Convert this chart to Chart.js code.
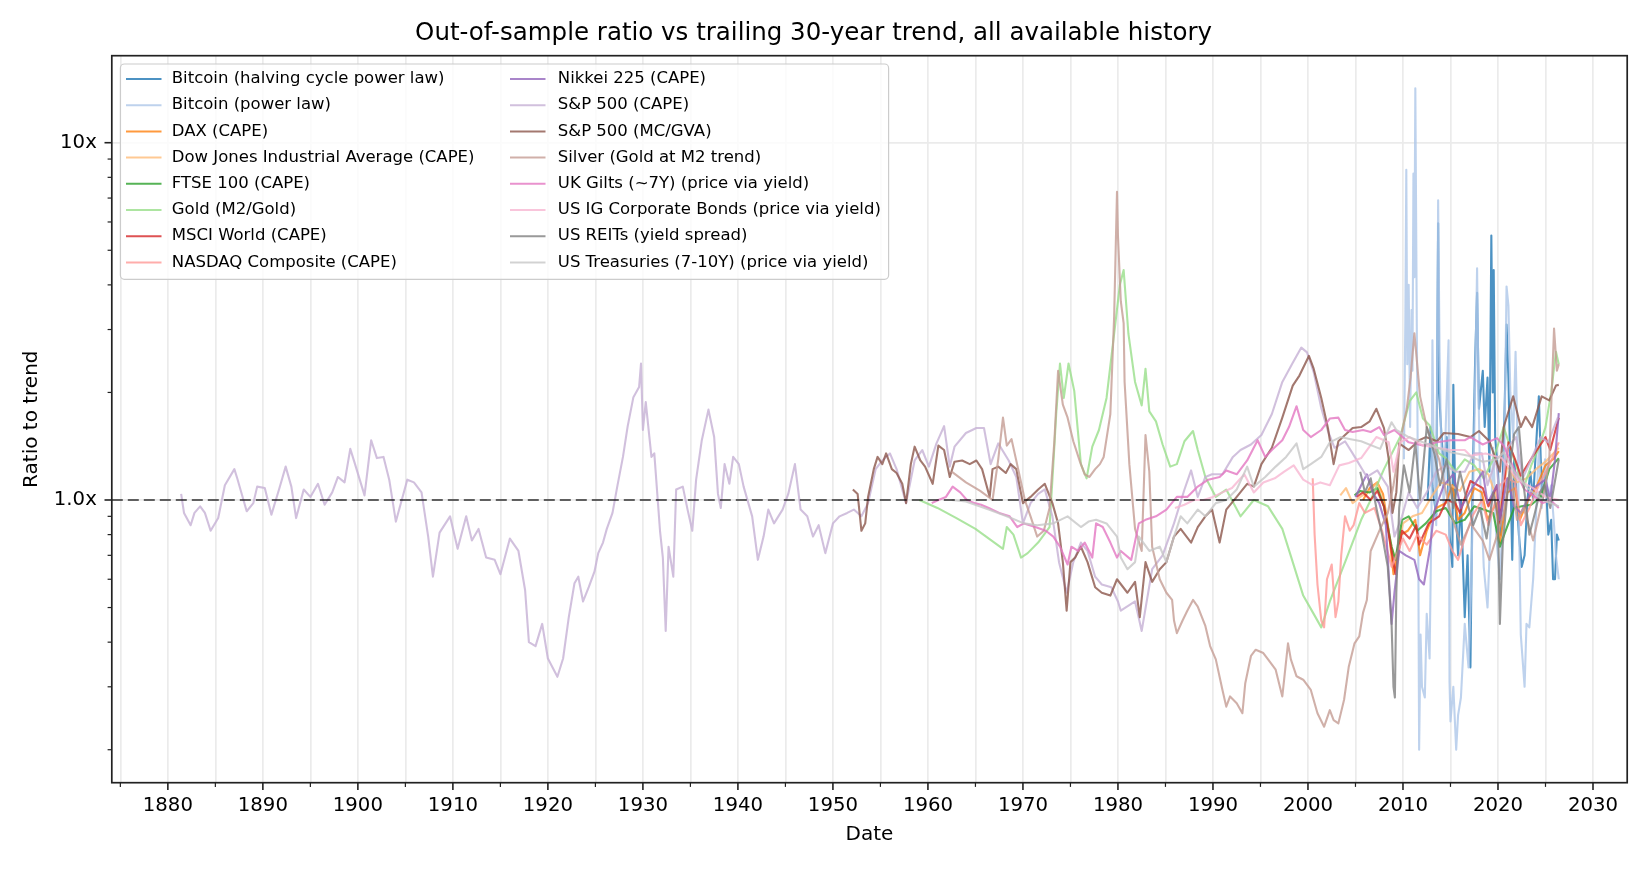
<!DOCTYPE html>
<html>
<head>
<meta charset="utf-8">
<script src="https://cdn.jsdelivr.net/npm/chart.js@4.4.1/dist/chart.umd.min.js"></script>
<style>
  html, body { margin: 0; padding: 0; background: #fff; }
  #wrap { width: 1650px; height: 870px; }
</style>
</head>
<body>
<div id="wrap"><canvas id="chart" width="1650" height="870"></canvas></div>
<script>
// Series: [year, ratio to trailing trend]
const btcHalving = [[2012.6,1.0],[2012.9,1.6],[2013.1,1.1],[2013.5,0.9],[2013.7,5.95],[2013.8,2.0],[2014.0,1.6],[2014.3,1.2],[2014.6,1.5],[2014.9,0.8],[2015.2,0.65],[2015.3,2.1],[2015.5,1.0],[2015.8,0.7],[2016.1,1.0],[2016.5,0.47],[2016.8,0.7],[2017.1,0.34],[2017.3,1.0],[2017.6,2.5],[2017.8,3.8],[2018.0,1.8],[2018.4,2.3],[2018.6,1.6],[2018.9,2.2],[2019.1,1.2],[2019.3,5.5],[2019.45,2.0],[2019.55,4.4],[2019.7,1.5],[2020.0,1.2],[2020.3,0.8],[2020.6,1.4],[2020.9,3.1],[2021.1,2.2],[2021.5,0.68],[2021.7,1.3],[2021.9,1.1],[2022.2,0.8],[2022.5,0.65],[2022.8,0.7],[2023.1,1.0],[2023.4,1.2],[2023.7,1.0],[2024.0,1.4],[2024.3,1.95],[2024.5,1.3],[2024.7,1.0],[2025.0,1.2],[2025.3,0.8],[2025.6,0.88],[2025.8,0.6],[2026.0,0.6],[2026.2,0.8],[2026.4,0.77]];
const btcPowerLaw = [[2010.1,1.3],[2010.25,3.2],[2010.35,8.4],[2010.45,2.4],[2010.6,4.0],[2010.75,1.6],[2010.9,3.4],[2011.0,2.3],[2011.1,8.2],[2011.2,4.2],[2011.3,14.2],[2011.45,3.2],[2011.6,0.9],[2011.7,0.2],[2011.85,0.42],[2012.0,0.3],[2012.3,0.28],[2012.5,0.48],[2012.8,0.36],[2013.0,0.9],[2013.1,2.8],[2013.25,1.2],[2013.5,0.85],[2013.7,6.9],[2013.85,2.6],[2014.0,1.5],[2014.3,0.95],[2014.5,1.6],[2014.8,2.8],[2014.9,0.31],[2015.0,0.24],[2015.3,0.3],[2015.6,0.2],[2015.8,0.25],[2016.1,0.28],[2016.5,0.45],[2016.9,0.34],[2017.2,0.6],[2017.5,1.5],[2017.8,4.45],[2017.95,2.0],[2018.1,1.2],[2018.5,0.65],[2018.9,0.5],[2019.3,0.95],[2019.5,1.4],[2019.8,0.8],[2020.2,0.6],[2020.6,1.0],[2020.9,3.96],[2021.1,3.5],[2021.3,2.0],[2021.6,1.5],[2021.85,2.6],[2022.1,1.3],[2022.4,0.42],[2022.8,0.3],[2023.0,0.45],[2023.3,0.44],[2023.7,0.6],[2024.0,0.9],[2024.3,1.4],[2024.6,0.95],[2024.95,1.3],[2025.3,1.0],[2025.6,1.1],[2025.9,0.85],[2026.1,0.7],[2026.4,0.6]];
const dax = [[2005.8,1.0],[2006.5,1.08],[2007.3,1.12],[2007.9,1.04],[2008.5,0.82],[2009.0,0.62],[2009.8,0.8],[2010.5,0.82],[2011.3,0.88],[2011.8,0.7],[2012.5,0.82],[2013.5,0.95],[2014.5,0.98],[2015.2,1.1],[2015.8,0.88],[2016.5,0.92],[2017.5,1.08],[2018.3,1.05],[2018.9,0.88],[2019.8,0.98],[2020.2,0.76],[2021.0,1.05],[2021.8,1.08],[2022.3,0.88],[2023.3,1.02],[2024.0,1.08],[2025.0,1.25],[2025.8,1.3],[2026.4,1.37]];
const dow = [[2003.4,1.03],[2004.0,1.08],[2004.7,0.98],[2005.5,1.02],[2006.5,1.06],[2007.3,1.12],[2008.0,0.96],[2008.8,0.74],[2009.2,0.68],[2010.0,0.86],[2011.0,0.9],[2012.0,0.92],[2013.0,1.02],[2014.0,1.12],[2015.0,1.1],[2016.0,1.06],[2017.0,1.2],[2018.0,1.22],[2019.0,1.18],[2020.2,0.95],[2021.0,1.25],[2022.0,1.12],[2023.0,1.15],[2024.0,1.22],[2025.0,1.28],[2026.4,1.4]];
const ftse = [[2004.9,1.03],[2005.5,1.06],[2006.5,1.05],[2007.3,1.08],[2008.0,0.96],[2008.8,0.74],[2009.2,0.68],[2009.9,0.88],[2010.6,0.9],[2011.5,0.82],[2012.4,0.86],[2013.5,0.93],[2014.5,0.95],[2015.5,0.86],[2016.5,0.88],[2017.5,0.96],[2018.5,0.94],[2019.5,0.92],[2020.2,0.74],[2020.8,0.82],[2021.7,0.95],[2022.5,0.96],[2023.5,0.97],[2024.5,1.02],[2025.4,1.22],[2026.4,1.31]];
const gold = [[1959.1,1.0],[1961.0,0.95],[1963.0,0.89],[1965.0,0.83],[1967.9,0.73],[1968.3,0.84],[1969.0,0.8],[1969.8,0.69],[1970.5,0.71],[1971.6,0.76],[1972.8,0.84],[1973.2,1.26],[1973.5,1.74],[1973.9,2.41],[1974.3,1.93],[1974.8,2.41],[1975.4,2.02],[1976.1,1.26],[1976.7,1.15],[1977.3,1.41],[1978.0,1.57],[1978.8,1.93],[1979.6,2.92],[1980.2,4.0],[1980.6,4.4],[1981.1,2.92],[1981.8,2.14],[1982.5,1.84],[1982.9,2.33],[1983.3,1.77],[1984.0,1.66],[1984.7,1.43],[1985.5,1.24],[1986.2,1.26],[1987.0,1.46],[1987.9,1.56],[1988.4,1.38],[1989.2,1.16],[1990.3,1.02],[1991.4,1.07],[1992.9,0.9],[1994.3,1.0],[1995.8,0.96],[1997.3,0.83],[1998.4,0.67],[1999.5,0.54],[2000.6,0.48],[2001.4,0.44],[2002.3,0.52],[2004.0,0.68],[2005.6,0.88],[2006.6,1.0],[2008.0,1.22],[2009.7,1.5],[2010.7,1.89],[2011.4,2.0],[2012.1,1.69],[2012.8,1.62],[2013.8,1.35],[2014.5,1.31],[2015.5,1.2],[2016.5,1.3],[2017.5,1.25],[2018.5,1.15],[2019.5,1.3],[2020.6,1.6],[2021.5,1.35],[2022.7,1.08],[2023.5,1.25],[2024.3,1.4],[2025.0,1.6],[2025.6,2.0],[2026.1,2.6],[2026.4,2.4]];
const msci = [[2005.1,1.02],[2005.8,1.05],[2006.6,1.0],[2007.3,1.06],[2008.0,0.96],[2008.8,0.72],[2009.2,0.62],[2009.9,0.82],[2010.7,0.78],[2011.4,0.85],[2011.7,0.75],[2012.7,0.86],[2013.8,0.9],[2014.6,1.0],[2015.5,0.98],[2016.0,0.92],[2017.1,1.13],[2018.4,1.08],[2019.0,0.96],[2019.9,1.1],[2020.2,0.86],[2021.1,1.45],[2021.8,1.3],[2022.4,1.17],[2023.7,1.33],[2025.0,1.5],[2025.5,1.38],[2026.4,1.7]];
const nasdaq = [[2000.5,1.15],[2000.7,0.8],[2001.0,0.58],[2001.4,0.46],[2001.7,0.44],[2002.0,0.6],[2002.5,0.66],[2002.9,0.47],[2003.2,0.52],[2003.5,0.7],[2003.9,0.9],[2004.4,0.82],[2004.8,0.85],[2005.4,0.98],[2006.0,0.92],[2007.0,0.95],[2007.8,0.82],[2008.8,0.65],[2009.3,0.7],[2010.0,0.78],[2010.7,0.72],[2011.5,0.8],[2012.5,0.75],[2013.5,0.82],[2014.5,0.8],[2015.2,0.72],[2015.8,0.68],[2016.5,0.78],[2017.3,0.9],[2018.3,1.0],[2019.0,0.85],[2020.2,1.1],[2021.0,1.15],[2021.8,1.12],[2022.4,0.85],[2023.3,0.95],[2024.3,1.1],[2025.4,1.25],[2026.4,1.45]];
const nikkei = [[2005.0,1.02],[2005.6,1.1],[2006.2,1.18],[2006.8,1.05],[2007.5,0.98],[2008.2,0.85],[2008.8,0.45],[2009.1,0.55],[2009.6,0.72],[2010.3,0.7],[2011.2,0.68],[2011.7,0.6],[2012.2,0.58],[2012.8,0.72],[2013.3,0.93],[2014.3,1.1],[2015.3,1.18],[2016.1,0.95],[2017.0,1.05],[2018.4,1.2],[2018.9,0.98],[2019.9,1.1],[2020.2,0.88],[2021.0,1.15],[2021.7,0.96],[2022.4,0.92],[2023.7,1.08],[2025.0,1.14],[2025.5,1.0],[2026.0,1.3],[2026.4,1.75]];
const spCape = [[1881.4,1.04],[1881.7,0.92],[1882.4,0.85],[1882.8,0.92],[1883.4,0.96],[1883.9,0.92],[1884.5,0.82],[1885.3,0.89],[1886.0,1.1],[1887.0,1.22],[1887.3,1.15],[1888.3,0.93],[1889.0,0.98],[1889.4,1.09],[1890.2,1.08],[1890.9,0.91],[1891.7,1.07],[1892.4,1.24],[1893.0,1.09],[1893.5,0.89],[1894.3,1.07],[1895.0,1.02],[1895.8,1.11],[1896.5,0.97],[1897.3,1.05],[1897.9,1.16],[1898.6,1.12],[1899.2,1.39],[1899.7,1.26],[1900.7,1.03],[1901.4,1.47],[1902.0,1.31],[1902.7,1.32],[1903.3,1.14],[1904.0,0.87],[1905.2,1.14],[1905.9,1.12],[1906.7,1.05],[1907.4,0.79],[1907.9,0.61],[1908.6,0.81],[1909.7,0.9],[1910.5,0.73],[1911.4,0.9],[1912.0,0.77],[1912.7,0.83],[1913.5,0.69],[1914.4,0.68],[1915.0,0.62],[1916.0,0.78],[1916.9,0.72],[1917.6,0.56],[1918.0,0.4],[1918.7,0.39],[1919.4,0.45],[1920.0,0.36],[1921.0,0.32],[1921.6,0.36],[1922.2,0.47],[1922.8,0.585],[1923.2,0.61],[1923.7,0.52],[1924.3,0.57],[1924.9,0.63],[1925.3,0.71],[1925.8,0.76],[1926.2,0.83],[1926.8,0.92],[1927.3,1.09],[1927.9,1.32],[1928.4,1.61],[1929.0,1.94],[1929.6,2.07],[1929.8,2.41],[1930.0,1.57],[1930.3,1.88],[1930.9,1.32],[1931.2,1.35],[1931.8,0.82],[1932.1,0.69],[1932.4,0.43],[1932.7,0.74],[1933.2,0.61],[1933.5,1.07],[1934.2,1.09],[1934.7,0.94],[1935.2,0.82],[1935.6,1.14],[1936.2,1.47],[1936.9,1.79],[1937.5,1.5],[1937.9,1.04],[1938.2,0.95],[1938.6,1.26],[1939.1,1.11],[1939.5,1.32],[1940.1,1.26],[1940.6,1.09],[1941.5,0.9],[1942.1,0.68],[1942.7,0.79],[1943.2,0.94],[1943.8,0.86],[1944.7,0.94],[1945.3,1.04],[1946.0,1.26],[1946.6,0.94],[1947.3,0.9],[1947.9,0.79],[1948.5,0.85],[1949.2,0.71],[1950.0,0.86],[1950.7,0.9],[1951.5,0.92],[1952.2,0.94],[1953.0,0.9],[1953.7,0.98],[1954.5,1.22],[1955.2,1.29],[1956.0,1.35],[1956.7,1.22],[1957.7,0.98],[1958.2,1.14],[1958.6,1.29],[1959.4,1.38],[1960.1,1.24],[1960.9,1.44],[1961.7,1.61],[1962.3,1.24],[1962.8,1.41],[1964.0,1.54],[1965.1,1.59],[1965.9,1.59],[1966.6,1.26],[1967.4,1.44],[1968.5,1.29],[1969.3,1.16],[1970.0,0.86],[1970.8,0.98],[1971.6,1.04],[1972.3,1.07],[1973.1,0.9],[1973.8,0.67],[1974.6,0.55],[1975.3,0.67],[1976.1,0.76],[1976.8,0.72],[1977.6,0.61],[1978.3,0.58],[1979.3,0.57],[1980.0,0.52],[1980.3,0.49],[1981.8,0.52],[1982.5,0.43],[1983.6,0.64],[1984.7,0.7],[1985.9,0.86],[1987.0,1.07],[1987.7,1.21],[1988.4,1.02],[1989.2,1.16],[1989.9,1.18],[1991.0,1.18],[1992.1,1.32],[1992.9,1.38],[1994.0,1.43],[1995.1,1.52],[1996.2,1.74],[1997.3,2.14],[1998.4,2.42],[1999.3,2.67],[1999.9,2.59],[2000.6,2.28],[2001.4,1.81],[2002.1,1.56],[2002.8,1.4],[2003.9,1.46],[2004.7,1.35],[2006.2,1.16],[2007.3,1.21],[2008.4,1.09],[2009.1,0.79],[2009.9,0.9],[2010.6,1.05],[2011.5,0.95],[2012.5,1.05],[2013.5,1.2],[2014.5,1.25],[2015.5,1.2],[2016.5,1.2],[2017.5,1.35],[2018.3,1.35],[2018.9,1.1],[2019.8,1.3],[2020.2,1.0],[2021.0,1.4],[2021.9,1.5],[2022.6,1.15],[2023.5,1.3],[2024.5,1.5],[2025.3,1.45],[2025.9,1.6],[2026.3,1.7]];
const spGva = [[1952.1,1.07],[1952.6,1.04],[1953.0,0.82],[1953.4,0.86],[1953.7,1.02],[1954.3,1.22],[1954.7,1.32],[1955.2,1.26],[1955.6,1.35],[1956.2,1.22],[1956.7,1.19],[1957.3,1.11],[1957.7,0.98],[1958.2,1.26],[1958.6,1.41],[1959.2,1.29],[1959.7,1.24],[1960.5,1.11],[1961.1,1.42],[1961.7,1.38],[1962.3,1.16],[1962.8,1.28],[1963.6,1.29],[1964.4,1.26],[1965.1,1.29],[1965.7,1.22],[1966.5,1.02],[1966.8,1.22],[1967.4,1.24],[1968.2,1.19],[1968.7,1.26],[1969.3,1.22],[1970.0,0.98],[1970.8,1.02],[1971.6,1.07],[1972.3,1.11],[1973.1,0.98],[1973.7,0.86],[1974.2,0.67],[1974.6,0.49],[1975.0,0.67],[1975.5,0.69],[1976.1,0.74],[1976.8,0.67],[1977.6,0.57],[1978.3,0.55],[1979.2,0.54],[1979.9,0.6],[1981.0,0.55],[1981.8,0.59],[1982.3,0.47],[1982.9,0.67],[1983.6,0.59],[1984.4,0.64],[1985.1,0.67],[1985.9,0.79],[1986.6,0.83],[1987.7,0.76],[1988.4,0.84],[1989.2,0.9],[1989.9,0.94],[1990.7,0.76],[1991.4,0.94],[1992.5,1.02],[1993.6,1.11],[1994.3,1.09],[1995.1,1.26],[1996.2,1.4],[1997.3,1.7],[1998.4,2.09],[1999.1,2.23],[2000.1,2.53],[2000.6,2.33],[2001.4,1.93],[2002.1,1.59],[2002.7,1.26],[2003.2,1.46],[2003.9,1.52],[2004.7,1.59],[2005.6,1.6],[2006.5,1.66],[2007.2,1.8],[2008.0,1.59],[2008.5,1.3],[2008.9,0.92],[2009.3,1.05],[2009.6,1.44],[2010.6,1.38],[2011.7,1.47],[2012.4,1.5],[2013.6,1.46],[2014.3,1.54],[2015.8,1.53],[2017.1,1.5],[2018.0,1.56],[2019.1,1.46],[2020.2,1.2],[2020.6,1.6],[2021.6,1.95],[2022.4,1.6],[2022.9,1.71],[2023.6,1.6],[2024.6,1.95],[2025.4,1.9],[2026.1,2.09],[2026.4,2.1]];
const silver = [[1962.5,1.2],[1964.0,1.12],[1965.5,1.06],[1966.8,1.0],[1967.4,1.3],[1967.9,1.7],[1968.3,1.42],[1968.8,1.48],[1969.5,1.22],[1970.2,1.0],[1970.8,0.9],[1971.5,0.79],[1972.2,0.82],[1972.8,0.95],[1973.3,1.45],[1973.7,2.3],[1974.2,1.85],[1974.7,1.7],[1975.3,1.46],[1976.0,1.28],[1976.5,1.18],[1977.0,1.16],[1977.6,1.22],[1978.1,1.26],[1978.5,1.32],[1979.2,1.74],[1979.6,3.26],[1979.9,7.29],[1980.0,5.5],[1980.3,3.6],[1980.6,3.12],[1980.7,2.14],[1981.2,1.26],[1981.8,0.83],[1982.5,0.72],[1982.9,1.52],[1983.3,1.2],[1983.6,0.74],[1984.4,0.6],[1985.1,0.55],[1985.7,0.525],[1985.9,0.46],[1986.2,0.424],[1986.8,0.46],[1987.3,0.49],[1987.9,0.525],[1988.4,0.503],[1989.2,0.444],[1989.7,0.39],[1990.3,0.358],[1991.0,0.294],[1991.4,0.264],[1991.8,0.282],[1992.5,0.27],[1993.1,0.253],[1993.4,0.307],[1994.0,0.366],[1994.5,0.381],[1995.3,0.373],[1995.8,0.358],[1996.6,0.335],[1997.3,0.282],[1997.9,0.397],[1998.2,0.358],[1998.8,0.321],[1999.5,0.314],[2000.3,0.294],[2001.0,0.253],[2001.7,0.232],[2002.3,0.258],[2002.7,0.242],[2003.2,0.237],[2003.8,0.276],[2004.3,0.342],[2004.9,0.397],[2005.4,0.415],[2005.8,0.484],[2006.2,0.525],[2006.6,0.72],[2007.6,0.83],[2008.4,0.92],[2009.0,1.1],[2009.9,1.55],[2010.4,1.8],[2010.8,2.2],[2011.2,2.93],[2011.8,1.95],[2012.5,1.6],[2013.8,1.3],[2015.0,0.92],[2016.1,0.75],[2017.1,0.86],[2018.4,0.77],[2019.1,0.68],[2019.8,0.78],[2020.6,0.92],[2021.3,1.2],[2022.0,0.88],[2022.7,0.95],[2023.7,0.77],[2024.5,0.95],[2025.0,1.1],[2025.4,1.31],[2025.9,3.02],[2026.2,2.3],[2026.4,2.4]];
const ukGilts = [[1960.4,0.98],[1961.1,1.0],[1961.9,1.02],[1962.6,1.09],[1963.4,1.05],[1964.1,1.0],[1964.9,0.98],[1965.6,0.97],[1966.4,0.95],[1967.5,0.92],[1968.6,0.9],[1969.4,0.84],[1970.1,0.86],[1971.3,0.84],[1972.4,0.82],[1973.2,0.79],[1973.9,0.74],[1974.7,0.66],[1975.1,0.74],[1975.8,0.72],[1976.5,0.76],[1977.3,0.69],[1977.7,0.86],[1978.4,0.84],[1979.2,0.76],[1979.9,0.69],[1980.3,0.72],[1981.4,0.68],[1982.2,0.86],[1982.9,0.88],[1984.0,0.9],[1985.1,0.94],[1986.2,1.02],[1987.3,1.02],[1988.4,1.09],[1989.5,1.14],[1990.7,1.16],[1991.4,1.21],[1992.5,1.18],[1993.6,1.29],[1994.7,1.47],[1995.5,1.32],[1996.2,1.38],[1997.3,1.47],[1998.0,1.6],[1998.8,1.83],[1999.5,1.57],[2000.3,1.5],[2001.4,1.57],[2002.3,1.69],[2003.2,1.7],[2003.9,1.57],[2004.7,1.55],[2005.8,1.57],[2006.6,1.55],[2007.5,1.6],[2008.0,1.52],[2009.1,1.57],[2010.6,1.45],[2012.1,1.42],[2013.6,1.45],[2015.0,1.47],[2016.5,1.47],[2017.1,1.5],[2018.4,1.43],[2019.9,1.49],[2020.6,1.42],[2021.7,1.22],[2022.8,1.07],[2023.9,1.02],[2024.7,0.98],[2025.5,1.0],[2026.4,0.95]];
const usIg = [[1986.0,0.95],[1987.0,0.97],[1988.0,1.0],[1989.0,1.0],[1990.0,1.02],[1991.0,1.05],[1992.0,1.08],[1993.3,1.18],[1994.3,1.05],[1995.3,1.12],[1996.5,1.15],[1997.5,1.2],[1998.5,1.25],[1999.5,1.14],[2000.5,1.1],[2001.3,1.12],[2002.3,1.1],[2003.3,1.25],[2004.3,1.27],[2005.6,1.31],[2007.2,1.5],[2008.5,1.45],[2009.0,1.2],[2009.7,1.45],[2010.7,1.5],[2012.1,1.42],[2013.6,1.4],[2015.0,1.38],[2016.5,1.38],[2017.1,1.33],[2018.7,1.35],[2020.4,1.31],[2022.1,1.14],[2023.7,1.08],[2025.0,1.02],[2026.4,1.0]];
const usReits = [[2005.5,1.2],[2006.0,1.05],[2006.6,1.15],[2007.2,0.95],[2007.8,0.8],[2008.4,0.65],[2008.8,0.45],[2009.0,0.3],[2009.15,0.28],[2009.3,0.55],[2009.6,0.95],[2010.1,1.25],[2010.7,1.05],[2011.3,1.45],[2011.8,1.0],[2012.5,1.6],[2013.3,1.35],[2013.9,1.1],[2014.6,1.3],[2015.3,0.95],[2016.0,1.2],[2016.7,1.0],[2017.4,0.85],[2018.1,0.95],[2018.8,0.78],[2019.5,1.05],[2020.0,0.9],[2020.2,0.45],[2020.5,0.75],[2021.2,1.2],[2021.7,1.53],[2022.2,1.6],[2022.7,1.1],[2023.3,0.8],[2023.8,0.9],[2024.4,1.05],[2024.9,1.1],[2025.5,0.95],[2026.4,1.3]];
const usTreasuries = [[1962.5,1.0],[1964.0,0.99],[1966.4,0.94],[1968.3,0.9],[1970.1,0.86],[1971.5,0.85],[1973.2,0.86],[1974.7,0.9],[1976.1,0.84],[1976.9,0.87],[1977.7,0.88],[1978.8,0.86],[1979.9,0.79],[1980.3,0.69],[1981.0,0.64],[1981.8,0.67],[1982.2,0.79],[1983.3,0.72],[1984.4,0.74],[1985.1,0.67],[1985.9,0.79],[1986.6,0.9],[1987.3,0.86],[1988.4,0.94],[1989.2,0.9],[1990.3,0.98],[1991.4,1.0],[1992.5,1.07],[1993.6,1.24],[1994.3,1.09],[1995.5,1.16],[1996.6,1.24],[1997.7,1.32],[1998.8,1.44],[1999.5,1.22],[2000.3,1.26],[2001.4,1.32],[2002.3,1.45],[2003.4,1.5],[2004.5,1.48],[2005.6,1.46],[2007.6,1.39],[2008.8,1.65],[2009.3,1.57],[2010.6,1.5],[2012.1,1.45],[2013.6,1.4],[2015.0,1.36],[2016.9,1.33],[2018.4,1.28],[2019.9,1.3],[2020.6,1.36],[2021.7,1.2],[2023.1,1.08],[2024.7,1.0],[2025.5,0.98],[2026.4,0.96]];

const seriesNames = [
  'Bitcoin (halving cycle power law)', 'Bitcoin (power law)', 'DAX (CAPE)',
  'Dow Jones Industrial Average (CAPE)', 'FTSE 100 (CAPE)', 'Gold (M2/Gold)',
  'MSCI World (CAPE)', 'NASDAQ Composite (CAPE)', 'Nikkei 225 (CAPE)',
  'S&P 500 (CAPE)', 'S&P 500 (MC/GVA)', 'Silver (Gold at M2 trend)',
  'UK Gilts (~7Y) (price via yield)', 'US IG Corporate Bonds (price via yield)',
  'US REITs (yield spread)', 'US Treasuries (7-10Y) (price via yield)'
];
const xTickYears = [1875,1880,1885,1890,1895,1900,1905,1910,1915,1920,1925,1930,1935,1940,1945,1950,1955,1960,1965,1970,1975,1980,1985,1990,1995,2000,2005,2010,2015,2020,2025,2030];
const yMajorTicks = [1, 10];
const yMajorLabels = ['1.0x', '10x'];
const yMinorTicks = [0.2,0.3,0.4,0.5,0.6,0.7,0.8,0.9,2,3,4,5,6,7,8,9];

const allSeries = [btcHalving, btcPowerLaw, dax, dow, ftse, gold, msci, nasdaq, nikkei, spCape, spGva, silver, ukGilts, usIg, usReits, usTreasuries];
const palette = ['#1f77b4','#aec7e8','#ff7f0e','#ffbb78','#2ca02c','#98df8a','#d62728','#ff9896','#9467bd','#c5b0d5','#8c564b','#c49c94','#e377c2','#f7b6d2','#7f7f7f','#c7c7c7'];
const FONT = "'DejaVu Sans', 'Liberation Sans', sans-serif";

function rgba(hex, a) {
  const n = parseInt(hex.slice(1), 16);
  return 'rgba(' + (n >> 16) + ',' + ((n >> 8) & 255) + ',' + (n & 255) + ',' + a + ')';
}

// matplotlib-ish extras: reference line, spines, tick marks, 2-column legend
const mplDecor = {
  id: 'mplDecor',
  afterDatasetsDraw(chart) {
    const ctx = chart.ctx, a = chart.chartArea;
    const y1 = chart.scales.y.getPixelForValue(1);
    ctx.save();
    ctx.strokeStyle = 'rgba(0,0,0,0.6)';
    ctx.lineWidth = 2.1;
    ctx.setLineDash([11, 5]);
    ctx.beginPath();
    ctx.moveTo(a.left, y1);
    ctx.lineTo(a.right, y1);
    ctx.stroke();
    ctx.restore();
  },
  afterDraw(chart) {
    const ctx = chart.ctx, a = chart.chartArea;
    const xs = chart.scales.x, ys = chart.scales.y;
    ctx.save();
    ctx.strokeStyle = '#222';
    // tick marks
    xTickYears.forEach(v => {
      const px = xs.getPixelForValue(v);
      const major = v % 10 === 0;
      ctx.lineWidth = major ? 1.6 : 1.2;
      ctx.beginPath();
      ctx.moveTo(px, a.bottom);
      ctx.lineTo(px, a.bottom + (major ? 7.3 : 4.2));
      ctx.stroke();
    });
    yMajorTicks.concat(yMinorTicks).forEach(v => {
      const py = ys.getPixelForValue(v);
      const major = yMajorTicks.includes(v);
      ctx.lineWidth = major ? 1.6 : 1.2;
      ctx.beginPath();
      ctx.moveTo(a.left, py);
      ctx.lineTo(a.left - (major ? 7.3 : 4.2), py);
      ctx.stroke();
    });
    // spines
    ctx.lineWidth = 1.7;
    ctx.strokeRect(a.left, a.top, a.right - a.left, a.bottom - a.top);

    // legend
    const bx = 120.4, by = 64, bw = 768.2, bh = 215.3;
    ctx.fillStyle = 'rgba(255,255,255,0.8)';
    ctx.strokeStyle = '#cccccc';
    ctx.lineWidth = 1.2;
    ctx.beginPath();
    ctx.roundRect(bx, by, bw, bh, 4);
    ctx.fill();
    ctx.stroke();
    ctx.font = '16.5px ' + FONT;
    ctx.textBaseline = 'middle';
    ctx.textAlign = 'left';
    seriesNames.forEach((name, i) => {
      const col = i < 8 ? 0 : 1;
      const row = i % 8;
      const y = 79 + row * 26.2;
      const hx = col ? 510 : 126;
      ctx.strokeStyle = rgba(palette[i], 0.8);
      ctx.lineWidth = 2;
      ctx.beginPath();
      ctx.moveTo(hx, y);
      ctx.lineTo(hx + 35.5, y);
      ctx.stroke();
      ctx.fillStyle = '#000';
      ctx.fillText(name, col ? 557.8 : 171.8, y);
    });
    ctx.restore();
  }
};

new Chart(document.getElementById('chart').getContext('2d'), {
  type: 'line',
  data: {
    datasets: allSeries.map((d, i) => ({
      label: seriesNames[i],
      data: d,
      borderColor: rgba(palette[i], 0.8),
      backgroundColor: rgba(palette[i], 0.8),
      borderWidth: 2.1,
      borderJoinStyle: 'round',
      pointRadius: 0,
      tension: 0,
      fill: false,
      order: allSeries.length - i
    }))
  },
  options: {
    responsive: false,
    animation: false,
    events: [],
    layout: { padding: { left: 0, right: 22.8, top: 0, bottom: 0 } },
    plugins: {
      legend: { display: false },
      tooltip: { enabled: false },
      title: {
        display: true,
        text: 'Out-of-sample ratio vs trailing 30-year trend, all available history',
        color: '#000',
        font: { family: FONT, size: 24.5, weight: 'normal' },
        padding: { top: 19.4, bottom: 6.9 }
      }
    },
    scales: {
      x: {
        type: 'linear',
        min: 1874.1,
        max: 2033.6,
        afterBuildTicks: s => { s.ticks = xTickYears.map(v => ({ value: v })); },
        afterFit: s => { s.height = 87.3; },
        ticks: {
          autoSkip: false,
          maxRotation: 0,
          padding: 11,
          color: '#000',
          font: { family: FONT, size: 19.7 },
          callback: v => (v % 10 === 0 ? String(v) : '')
        },
        grid: { color: '#ebebeb', lineWidth: 1.7, drawTicks: false },
        border: { display: false },
        title: {
          display: true,
          text: 'Date',
          color: '#000',
          font: { family: FONT, size: 20 },
          padding: { top: 0, bottom: 23 }
        }
      },
      y: {
        type: 'logarithmic',
        min: 0.1617,
        max: 17.52,
        afterBuildTicks: s => {
          s.ticks = yMinorTicks.concat(yMajorTicks).sort((p, q) => p - q).map(v => ({ value: v }));
        },
        afterFit: s => { s.width = 111.8; },
        ticks: {
          autoSkip: false,
          padding: 15,
          color: '#000',
          font: { family: FONT, size: 19.7 },
          callback: v => {
            const k = yMajorTicks.indexOf(v);
            return k >= 0 ? yMajorLabels[k] : '';
          }
        },
        grid: {
          color: c => (c.tick && yMajorTicks.includes(c.tick.value) ? '#ebebeb' : 'rgba(0,0,0,0)'),
          lineWidth: 1.7,
          drawTicks: false
        },
        border: { display: false },
        title: {
          display: true,
          text: 'Ratio to trend',
          color: '#000',
          font: { family: FONT, size: 20 },
          padding: { top: 20, bottom: 0 }
        }
      }
    }
  },
  plugins: [mplDecor]
});
</script>
</body>
</html>
